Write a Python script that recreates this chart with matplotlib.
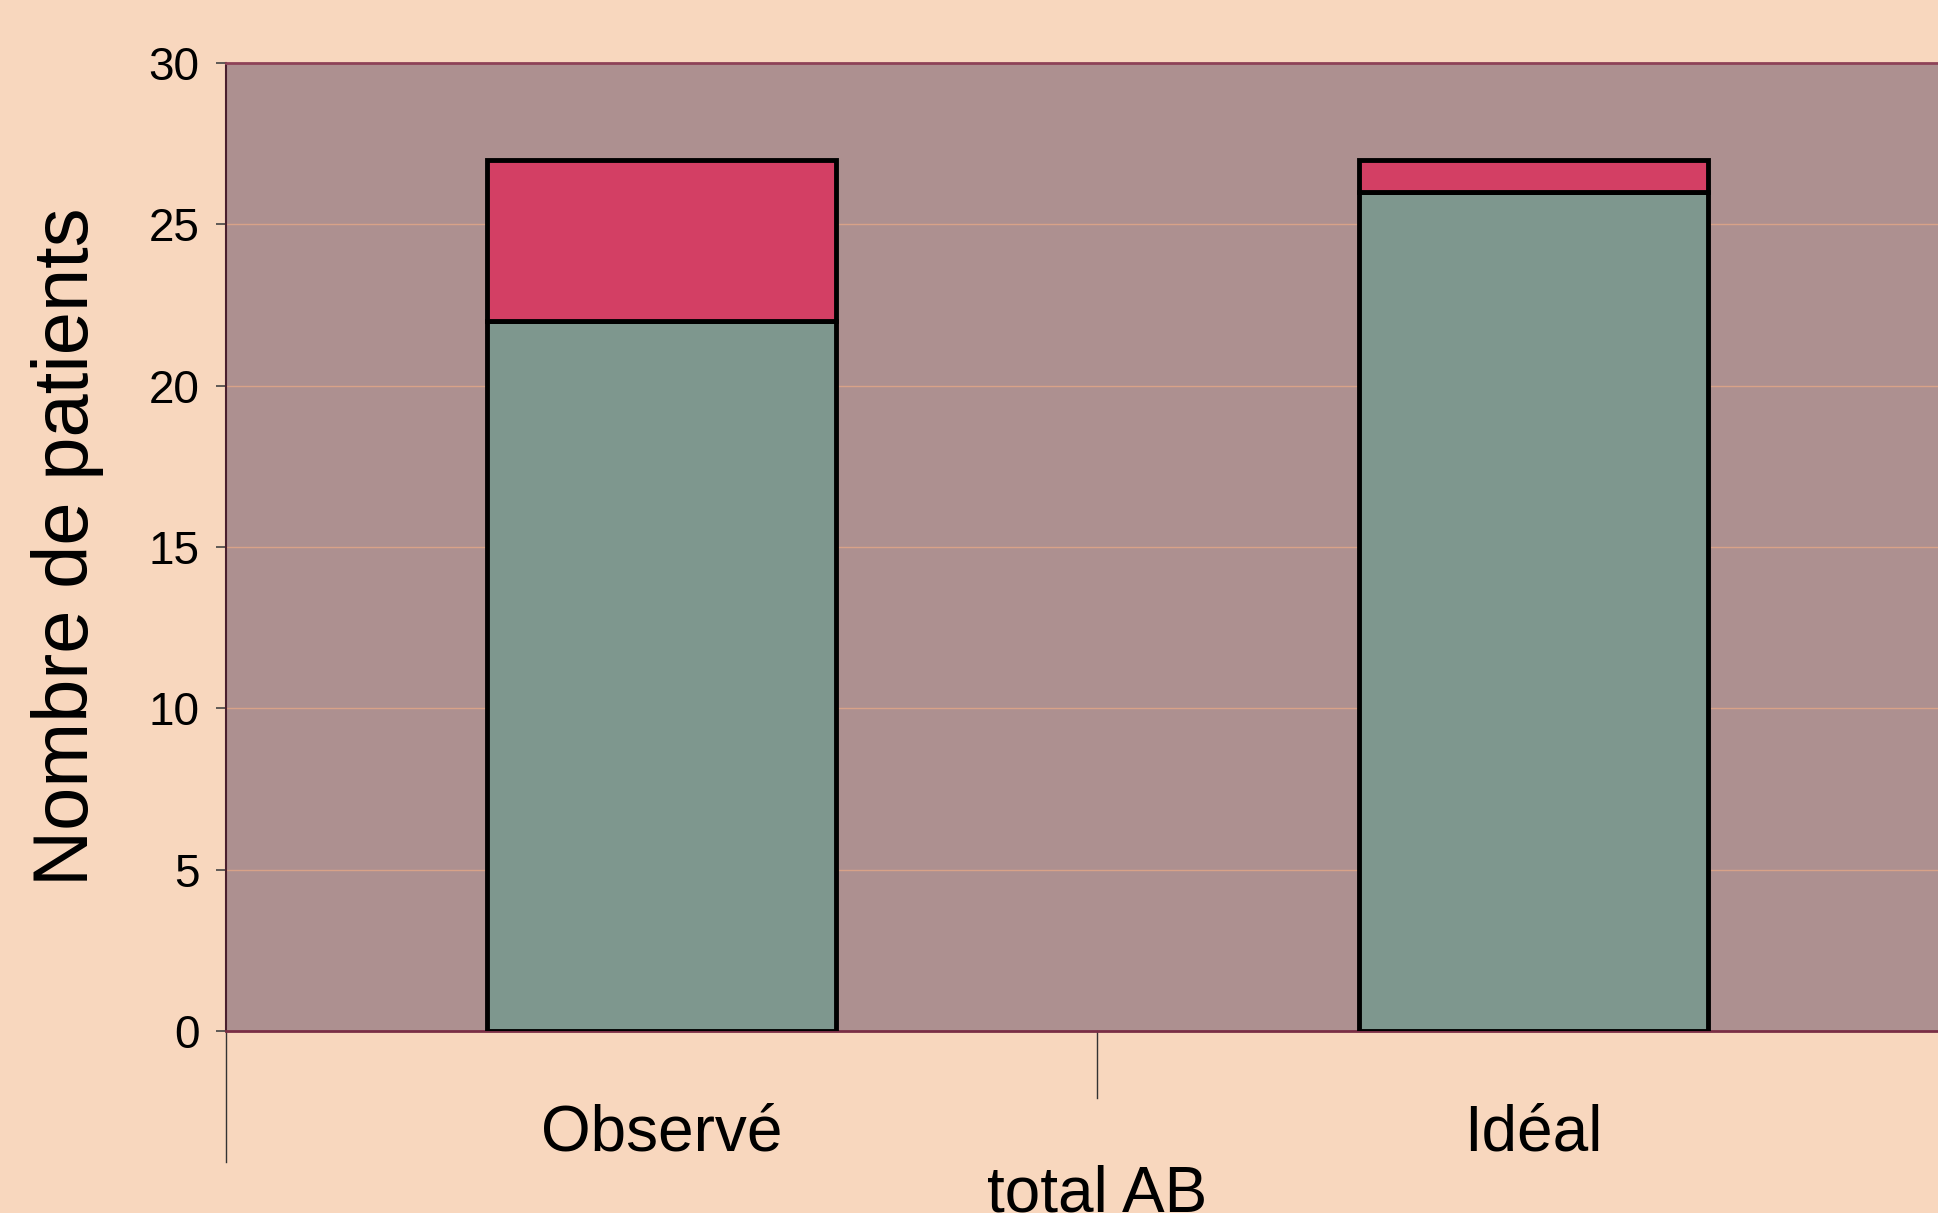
import matplotlib.pyplot as plt
import numpy as np

plt.rcParams['font.family'] = ['Liberation Sans', 'DejaVu Sans']

# Patients per group (stacked)
categories = ['Observé', 'Idéal']
group_label = 'total AB'
lower_vals = [22, 26]   # green segment
upper_vals = [5, 1]     # red segment
yticks = [0, 5, 10, 15, 20, 25, 30]

bg = '#F8D7BE'
plot_bg = '#AD9090'
green = '#7E978E'
red = '#D33F64'

fig = plt.figure(figsize=(19.38, 12.13), dpi=100, facecolor=bg)
# axes run past the right edge of the figure, like a cropped chart
ax = fig.add_axes([0.1166, 0.150, 0.8994, 0.798])
ax.set_facecolor(plot_bg)

x = np.arange(len(categories)) + 0.5
ax.bar(x, lower_vals, width=0.4, color=green, edgecolor='black', linewidth=3.5, zorder=3)
ax.bar(x, upper_vals, width=0.4, bottom=lower_vals, color=red, edgecolor='black',
       linewidth=3.5, zorder=3)

ax.set_xlim(0, 2)
ax.set_ylim(0, 30)
ax.set_yticks(yticks)
ax.set_yticklabels([str(t) for t in yticks], fontsize=33)
ax.tick_params(axis='y', direction='out', length=7, width=1.2, color='#444444', pad=12)

# horizontal gridlines between the ends of the axis
for t in yticks[1:-1]:
    ax.axhline(t, color='#D8A288', linewidth=1.0, zorder=1)

ax.set_xticks(x)
ax.set_xticklabels(categories, fontsize=46)
ax.tick_params(axis='x', length=0, pad=52)

# category dividers below the axis
xt = ax.get_xaxis_transform()
ax.plot([0, 0], [0, -0.135], transform=xt, color='#333333', linewidth=1.0, clip_on=False)
ax.plot([1, 1], [0, -0.069], transform=xt, color='#333333', linewidth=1.0, clip_on=False)
ax.text(1, -0.186, group_label, transform=xt, ha='center', va='baseline', fontsize=46)

ax.set_ylabel('Nombre de patients', fontsize=56, labelpad=32)

ax.spines['top'].set_color('#8E4257')
ax.spines['top'].set_linewidth(2)
ax.spines['bottom'].set_color('#7A2E45')
ax.spines['bottom'].set_linewidth(2)
ax.spines['left'].set_color('#4A1F2E')
ax.spines['left'].set_linewidth(1.5)
ax.spines['right'].set_visible(False)

fig.savefig('out.png', dpi=100, facecolor=bg)
